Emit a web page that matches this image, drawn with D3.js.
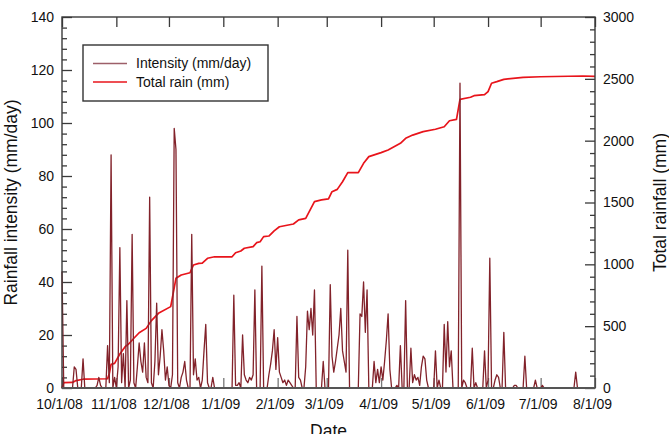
<!DOCTYPE html>
<html>
<head>
<meta charset="utf-8">
<script src="https://cdn.jsdelivr.net/npm/d3@7"></script>
<style>
  body { margin: 0; background: #fff; }
  text { font-family: "Liberation Sans", Arial, sans-serif; }
</style>
</head>
<body>
<div id="chart"></div>
<script>
// daily rainfall intensity (mm/day), one value per day from 10/1/08 to 8/1/09
var intensity = [
  44,0,0,0,0,0,0,8,7,0,
  0,0,11,0,0,0,0,0,0,0,
  1,4,1,0,0,0,16,2,88,0,
  4,0,8,53,2,13,0,33,0,3,
  58,2,0,8,17,10,6,17,4,2,
  72,2,0,10,32,5,12,22,14,3,
  8,1,0,5,98,90,2,0,4,6,
  10,3,0,0,58,5,11,3,4,0,
  3,14,24,2,0,0,4,0,0,0,
  0,0,0,0,0,0,0,0,35,1,
  1,2,0,20,5,3,2,4,3,5,
  37,0,0,0,46,0,0,0,5,9,
  14,22,7,19,6,4,2,3,1,3,
  2,1,0,0,27,4,3,0,0,8,
  29,22,30,20,37,0,0,0,0,10,
  0,0,0,39,12,6,10,15,20,30,
  14,10,6,52,0,0,0,0,0,0,
  28,27,40,21,37,0,0,0,10,2,
  7,2,8,3,10,18,28,7,0,0,
  0,1,0,16,0,0,33,0,0,15,
  2,5,3,4,1,8,12,11,3,0,
  0,0,0,14,0,3,0,0,24,6,
  25,8,14,0,0,0,0,115,0,3,
  2,0,0,0,15,0,2,0,0,0,
  0,14,0,3,49,0,0,3,5,4,
  0,0,21,0,0,0,0,0,1,1,
  0,0,0,0,12,0,0,0,0,0,
  3,0,0,0,1,0,0,0,0,0,
  0,0,0,0,0,0,0,0,0,0,
  0,0,0,6,0,0,0,0,0,0,
  0,0,0,0,0
];

// cumulative rain (mm), read at these day offsets from 10/1/08
var totalDays = [0,1,6,8,12,26,27,28,30,33,36,38,41,44,48,51,55,62,65,68,73,75,78,80,83,87,97,99,102,104,109,111,113,115,118,121,124,132,135,139,144,148,152,154,157,160,163,169,172,175,182,186,193,196,200,206,213,218,221,225,227,233,235,241,243,245,248,252,263,273,297,304];
var totalRain = [0,43,45,60,71,75,119,191,199,275,334,356,402,447,482,545,604,658,887,914,932,995,1008,1010,1049,1061,1061,1094,1108,1130,1143,1175,1183,1224,1229,1270,1304,1326,1359,1372,1507,1521,1529,1587,1606,1668,1741,1741,1817,1871,1903,1925,1979,2019,2045,2073,2092,2113,2161,2172,2334,2351,2364,2372,2397,2464,2477,2496,2512,2517,2523,2520];

var monthTicks = ["2008-10-01","2008-11-01","2008-12-01","2009-01-01","2009-02-01","2009-03-01",
  "2009-04-01","2009-05-01","2009-06-01","2009-07-01","2009-08-01"];
var leftTicks = [0,20,40,60,80,100,120,140];
var rightTicks = [0,500,1000,1500,2000,2500,3000];
var seriesNames = ["Intensity (mm/day)", "Total rain (mm)"];

var svgWidth = 669;
var svgHeight = 434;
var margin = { top: 17, right: 74, bottom: 46, left: 62 };
var width = svgWidth - margin.left - margin.right;
var height = svgHeight - margin.top - margin.bottom;

var startDate = new Date(Date.UTC(2008, 9, 1));
function dayToDate(i) { return d3.utcDay.offset(startDate, i); }
var tickDates = monthTicks.map(d => new Date(d + "T00:00:00Z"));

var svg = d3.select("#chart")
  .append("svg")
  .attr("width", svgWidth)
  .attr("height", svgHeight);

var chartGroup = svg.append("g")
  .attr("transform", `translate(${margin.left}, ${margin.top})`);

var xScale = d3.scaleUtc()
  .domain([tickDates[0], tickDates[tickDates.length - 1]])
  .range([0, width]);
var yLeft = d3.scaleLinear().domain([0, 140]).range([height, 0]);
var yRight = d3.scaleLinear().domain([0, 3000]).range([height, 0]);

var axisColor = "#3a3a3a";

// bottom axis (ticks point up)
var bottomAxis = chartGroup.append("g")
  .attr("transform", `translate(0, ${height})`)
  .call(d3.axisBottom(xScale).tickValues(tickDates)
    .tickFormat(d3.utcFormat("%-m/%-d/%y"))
    .tickSizeInner(-10).tickSizeOuter(0).tickPadding(11));
bottomAxis.selectAll("line").attr("stroke", "#777").attr("stroke-width", 1.3);
bottomAxis.selectAll("text").attr("x", -3);

// top axis (ticks only)
var topAxis = chartGroup.append("g")
  .call(d3.axisTop(xScale).tickValues(tickDates).tickFormat("")
    .tickSizeInner(-10).tickSizeOuter(0));
topAxis.selectAll("line").attr("stroke", axisColor).attr("stroke-width", 1.3);

// left axis, major + minor
var leftAxis = chartGroup.append("g")
  .call(d3.axisLeft(yLeft).tickValues(leftTicks)
    .tickSizeInner(-10).tickSizeOuter(0).tickPadding(8));
var leftMinor = chartGroup.append("g")
  .call(d3.axisLeft(yLeft).tickValues(d3.range(0, 141, 4).filter(v => v % 20 !== 0))
    .tickFormat("").tickSizeInner(-5).tickSizeOuter(0));

// right axis, major + minor
var rightAxis = chartGroup.append("g")
  .attr("transform", `translate(${width}, 0)`)
  .call(d3.axisRight(yRight).tickValues(rightTicks).tickFormat(d3.format("d"))
    .tickSizeInner(-10).tickSizeOuter(0).tickPadding(8));
var rightMinor = chartGroup.append("g")
  .attr("transform", `translate(${width}, 0)`)
  .call(d3.axisRight(yRight).tickValues(d3.range(0, 3001, 100).filter(v => v % 500 !== 0))
    .tickFormat("").tickSizeInner(-5).tickSizeOuter(0));

[leftAxis, leftMinor, rightAxis, rightMinor].forEach(function(g) {
  g.selectAll("line").attr("stroke", axisColor).attr("stroke-width", 1.3);
});
chartGroup.selectAll(".domain").remove();
chartGroup.selectAll(".tick text")
  .attr("fill", "#111")
  .style("font-size", "14px");

// total rain line
var totalData = totalDays.map((d, i) => ({ date: dayToDate(d), value: totalRain[i] }));
var totalLine = d3.line()
  .x(d => xScale(d.date))
  .y(d => yRight(d.value));
chartGroup.append("path")
  .datum(totalData)
  .attr("fill", "none")
  .attr("stroke", "#e8141b")
  .attr("stroke-width", 1.7)
  .attr("stroke-linejoin", "round")
  .attr("d", totalLine);

// intensity line
var intensityData = intensity.map((v, i) => ({ date: dayToDate(i), value: v }));
var intensityLine = d3.line()
  .x(d => xScale(d.date))
  .y(d => yLeft(d.value));
chartGroup.append("path")
  .datum(intensityData)
  .attr("fill", "none")
  .attr("stroke", "#82222a")
  .attr("stroke-width", 1.3)
  .attr("stroke-linejoin", "round")
  .attr("d", intensityLine);

// frame
chartGroup.append("rect")
  .attr("x", 0).attr("y", 0)
  .attr("width", width).attr("height", height)
  .attr("fill", "none")
  .attr("stroke", axisColor)
  .attr("stroke-width", 1.4);
chartGroup.append("line")
  .attr("x1", 0).attr("x2", width)
  .attr("y1", height).attr("y2", height)
  .attr("stroke", "#555")
  .attr("stroke-width", 2);

// axis titles
svg.append("text")
  .attr("transform", `translate(17, ${margin.top + height / 2}) rotate(-90)`)
  .attr("text-anchor", "middle")
  .style("font-size", "17.5px")
  .attr("fill", "#111")
  .text("Rainfall intensity (mm/day)");
svg.append("text")
  .attr("transform", `translate(666, ${margin.top + height / 2}) rotate(-90)`)
  .attr("text-anchor", "middle")
  .style("font-size", "17.5px")
  .attr("fill", "#111")
  .text("Total rainfall (mm)");
svg.append("text")
  .attr("x", margin.left + width / 2)
  .attr("y", 437)
  .attr("text-anchor", "middle")
  .style("font-size", "17.5px")
  .attr("fill", "#111")
  .text("Date");

// legend
var legend = svg.append("g");
legend.append("rect")
  .attr("x", 83).attr("y", 45)
  .attr("width", 185).attr("height", 56)
  .attr("fill", "#fff")
  .attr("stroke", "#333")
  .attr("stroke-width", 1.4);
var legendColors = ["#9d5f69", "#e8141b"];
seriesNames.forEach(function(name, i) {
  var ly = 63.5 + i * 18.5;
  legend.append("line")
    .attr("x1", 93).attr("x2", 127)
    .attr("y1", ly).attr("y2", ly)
    .attr("stroke", legendColors[i])
    .attr("stroke-width", 1.6);
  legend.append("text")
    .attr("x", 136).attr("y", ly)
    .attr("dy", "0.35em")
    .style("font-size", "14px")
    .attr("fill", "#111")
    .text(name);
});
</script>
</body>
</html>
